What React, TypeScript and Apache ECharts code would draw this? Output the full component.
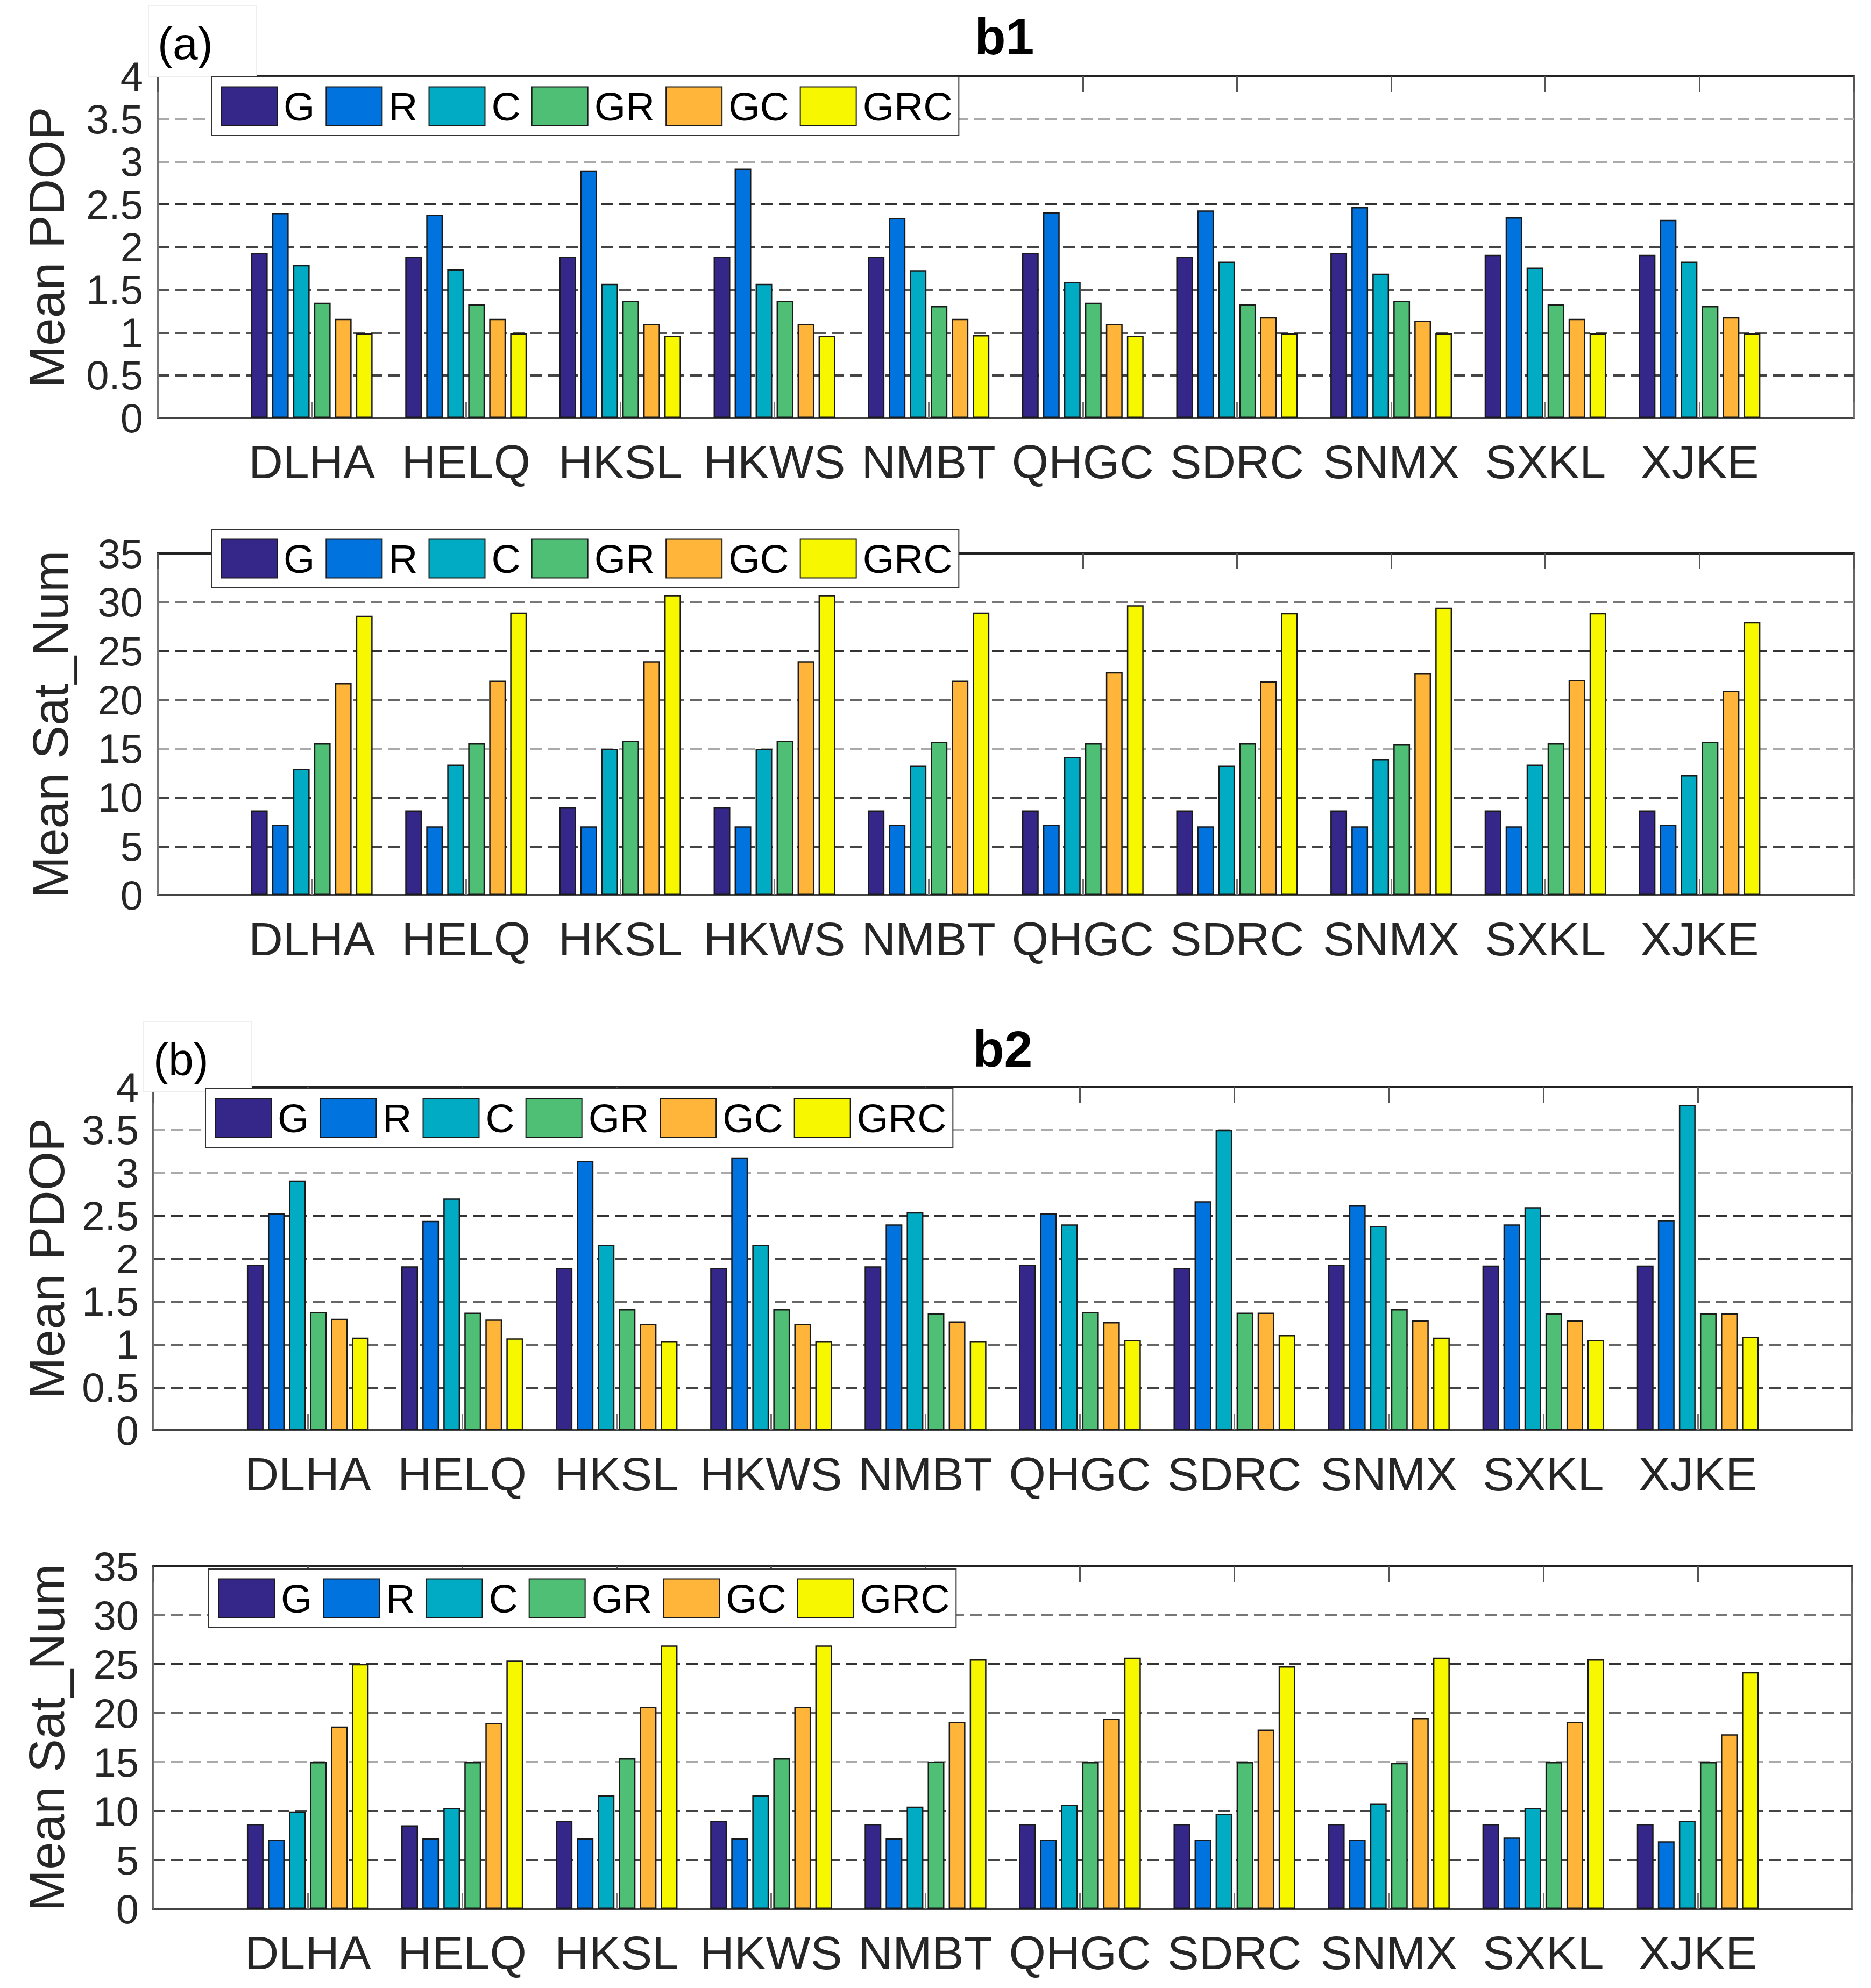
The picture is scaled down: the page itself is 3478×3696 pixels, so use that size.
import React, { useEffect, useRef } from "react";
import * as echarts from "echarts";

const stations = ["DLHA", "HELQ", "HKSL", "HKWS", "NMBT", "QHGC", "SDRC", "SNMX", "SXKL", "XJKE"];
const systems = ["G", "R", "C", "GR", "GC", "GRC"];
const sysColors = ["#35268a", "#0073de", "#00abc3", "#4fbf76", "#ffb43a", "#f7f700"];

const pdopTicks = [0, 0.5, 1, 1.5, 2, 2.5, 3, 3.5, 4];
const satTicks = [0, 5, 10, 15, 20, 25, 30, 35];

// Panel b1: Mean PDOP
const b1PdopG = [1.93, 1.89, 1.89, 1.89, 1.89, 1.93, 1.89, 1.93, 1.91, 1.91];
const b1PdopR = [2.40, 2.38, 2.90, 2.92, 2.34, 2.41, 2.43, 2.47, 2.35, 2.32];
const b1PdopC = [1.79, 1.74, 1.57, 1.57, 1.73, 1.59, 1.83, 1.69, 1.76, 1.83];
const b1PdopGR = [1.35, 1.33, 1.37, 1.37, 1.31, 1.35, 1.33, 1.37, 1.33, 1.31];
const b1PdopGC = [1.16, 1.16, 1.10, 1.10, 1.16, 1.10, 1.18, 1.14, 1.16, 1.18];
const b1PdopGRC = [0.99, 0.99, 0.96, 0.96, 0.97, 0.96, 0.99, 0.99, 0.99, 0.99];

// Panel b1: Mean Sat_Num
const b1SatG = [8.68, 8.68, 8.98, 8.98, 8.68, 8.68, 8.68, 8.68, 8.68, 8.68];
const b1SatR = [7.19, 7.04, 7.04, 7.04, 7.19, 7.19, 7.04, 7.04, 7.04, 7.19];
const b1SatC = [12.95, 13.37, 14.98, 14.98, 13.25, 14.17, 13.25, 13.94, 13.37, 12.29];
const b1SatGR = [15.55, 15.55, 15.79, 15.79, 15.70, 15.55, 15.55, 15.43, 15.55, 15.70];
const b1SatGC = [21.72, 21.96, 23.96, 23.96, 21.96, 22.83, 21.90, 22.71, 22.02, 20.92];
const b1SatGRC = [28.62, 28.95, 30.74, 30.74, 28.95, 29.69, 28.89, 29.45, 28.89, 27.96];

// Panel b2: Mean PDOP
const b2PdopG = [1.93, 1.91, 1.89, 1.89, 1.91, 1.93, 1.89, 1.93, 1.92, 1.92];
const b2PdopR = [2.53, 2.44, 3.14, 3.18, 2.40, 2.53, 2.67, 2.62, 2.40, 2.45];
const b2PdopC = [2.91, 2.70, 2.16, 2.16, 2.54, 2.40, 3.50, 2.38, 2.60, 3.79];
const b2PdopGR = [1.38, 1.37, 1.41, 1.41, 1.36, 1.38, 1.37, 1.41, 1.36, 1.36];
const b2PdopGC = [1.30, 1.29, 1.24, 1.24, 1.27, 1.26, 1.37, 1.28, 1.28, 1.36];
const b2PdopGRC = [1.08, 1.07, 1.04, 1.04, 1.04, 1.05, 1.11, 1.08, 1.05, 1.09];

// Panel b2: Mean Sat_Num
const b2SatG = [8.68, 8.54, 9.01, 9.01, 8.68, 8.68, 8.68, 8.68, 8.68, 8.68];
const b2SatR = [7.08, 7.20, 7.20, 7.20, 7.20, 7.08, 7.08, 7.08, 7.29, 6.91];
const b2SatC = [9.96, 10.31, 11.59, 11.59, 10.46, 10.64, 9.72, 10.79, 10.31, 8.98];
const b2SatGR = [15.0, 15.0, 15.38, 15.38, 15.06, 15.0, 15.0, 14.91, 15.0, 15.0];
const b2SatGC = [18.64, 19.0, 20.63, 20.63, 19.12, 19.44, 18.32, 19.5, 19.09, 17.84];
const b2SatGRC = [25.01, 25.37, 26.91, 26.91, 25.49, 25.67, 24.78, 25.67, 25.49, 24.19];

const FONT = "'Liberation Sans', Arial, Helvetica, sans-serif";
const TXT = "#262626";

const panels = [
  {
    grid: { left: 293, top: 142, width: 3153, height: 635 },
    legend: { left: 393, top: 143 },
    yName: "Mean PDOP", nameGap: 160, ticks: pdopTicks,
    gridColors: ["#444", "#444", "#555", "#555", "#444", "#333", "#aaa", "#aaa", "#333"],
    data: [b1PdopG, b1PdopR, b1PdopC, b1PdopGR, b1PdopGC, b1PdopGRC],
  },
  {
    grid: { left: 293, top: 1029, width: 3153, height: 635 },
    legend: { left: 393, top: 984 },
    yName: "Mean Sat_Num", nameGap: 153, ticks: satTicks,
    gridColors: ["#444", "#444", "#444", "#aaa", "#666", "#333", "#777", "#aaa"],
    data: [b1SatG, b1SatR, b1SatC, b1SatGR, b1SatGC, b1SatGRC],
  },
  {
    grid: { left: 285, top: 2021, width: 3158, height: 638 },
    legend: { left: 382, top: 2024 },
    yName: "Mean PDOP", nameGap: 152, ticks: pdopTicks,
    gridColors: ["#444", "#444", "#666", "#666", "#444", "#333", "#aaa", "#aaa", "#333"],
    data: [b2PdopG, b2PdopR, b2PdopC, b2PdopGR, b2PdopGC, b2PdopGRC],
  },
  {
    grid: { left: 285, top: 2912, width: 3158, height: 637 },
    legend: { left: 388, top: 2917 },
    yName: "Mean Sat_Num", nameGap: 152, ticks: satTicks,
    gridColors: ["#444", "#444", "#444", "#aaa", "#666", "#333", "#777", "#aaa"],
    data: [b2SatG, b2SatR, b2SatC, b2SatGR, b2SatGC, b2SatGRC],
  },
];

const axisCats = ["", ...stations, ""];

function buildOption() {
  const grid: any[] = [];
  const xAxis: any[] = [];
  const yAxis: any[] = [];
  const series: any[] = [];
  const legend: any[] = [];

  panels.forEach((p, i) => {
    grid.push({
      ...p.grid,
      show: true,
      backgroundColor: "#ffffff",
      borderColor: "#666",
      borderWidth: 4,
    });
    // bottom axis
    xAxis.push({
      type: "category",
      gridIndex: i,
      data: axisCats,
      boundaryGap: false,
      position: "bottom",
      axisLine: { show: true, lineStyle: { color: "#444", width: 4 } },
      axisTick: { show: true, inside: true, length: 30, interval: 0, lineStyle: { color: "#777", width: 3 } },
      axisLabel: { interval: 0, fontSize: 88, fontFamily: FONT, color: TXT, margin: 37 },
      splitLine: { show: false },
      z: 1,
    });
    // top axis (box ticks)
    xAxis.push({
      type: "category",
      gridIndex: i,
      data: axisCats,
      boundaryGap: false,
      position: "top",
      axisLine: { show: true, lineStyle: { color: "#222", width: 4 } },
      axisTick: { show: true, inside: true, length: 29, interval: 0, lineStyle: { color: "#555", width: 3 } },
      axisLabel: { show: false },
      splitLine: { show: false },
    });
    const tks = p.ticks;
    const interval = tks[1] - tks[0];
    yAxis.push({
      type: "value",
      gridIndex: i,
      min: tks[0],
      max: tks[tks.length - 1],
      interval,
      name: p.yName,
      nameLocation: "middle",
      nameGap: p.nameGap,
      nameTextStyle: { fontSize: 93, fontFamily: FONT, color: TXT },
      axisLine: { show: true, lineStyle: { color: "#777", width: 3 } },
      axisTick: { show: false },
      axisLabel: { fontSize: 76, lineHeight: 70, fontFamily: FONT, color: TXT, margin: 27 },
      splitLine: {
        show: true,
        lineStyle: { color: p.gridColors, width: 4, type: [22, 11] },
      },
    });
    p.data.forEach((vals, s) => {
      series.push({
        type: "bar",
        name: systems[s],
        xAxisIndex: i * 2,
        yAxisIndex: i,
        data: [null, ...vals, null],
        barWidth: "10.8%",
        barGap: "26%",
        itemStyle: { color: sysColors[s], borderColor: "#1a1a1a", borderWidth: 2.5 },
        emphasis: { disabled: true },
        z: 2,
      });
    });
    legend.push({
      left: p.legend.left,
      top: p.legend.top,
      orient: "horizontal",
      data: systems,
      icon: "rect",
      itemWidth: 104,
      itemHeight: 72,
      itemGap: 20,
      padding: [17, 12, 17, 17],
      backgroundColor: "#ffffff",
      borderColor: "#333",
      borderWidth: 2,
      selectedMode: false,
      textStyle: { fontSize: 75, fontFamily: FONT, color: "#000", padding: [0, 0, 0, 7] },
      z: 10,
    });
  });

  const graphic: any[] = [
    { type: "rect", shape: { x: 276, y: 10, width: 200, height: 132 }, style: { fill: "#fff", stroke: "#eeeeee", lineWidth: 2 }, z: 5 },
    { type: "text", x: 293, y: 81, style: { text: "(a)", fontSize: 84, fontFamily: FONT, fill: "#000", textAlign: "left", textVerticalAlign: "middle" }, z: 6 },
    { type: "text", x: 1867, y: 68, style: { text: "b1", fontSize: 95, fontWeight: "bold", fontFamily: FONT, fill: "#000", textAlign: "center", textVerticalAlign: "middle" }, z: 6 },
    { type: "rect", shape: { x: 266, y: 1899, width: 202, height: 130 }, style: { fill: "#fff", stroke: "#eeeeee", lineWidth: 2 }, z: 5 },
    { type: "text", x: 285, y: 1970, style: { text: "(b)", fontSize: 84, fontFamily: FONT, fill: "#000", textAlign: "left", textVerticalAlign: "middle" }, z: 6 },
    { type: "text", x: 1864, y: 1950, style: { text: "b2", fontSize: 95, fontWeight: "bold", fontFamily: FONT, fill: "#000", textAlign: "center", textVerticalAlign: "middle" }, z: 6 },
  ];

  return {
    animation: false,
    backgroundColor: "#ffffff",
    grid,
    xAxis,
    yAxis,
    series,
    legend,
    graphic,
  };
}

export default function App() {
  const ref = useRef<HTMLDivElement>(null);
  useEffect(() => {
    if (!ref.current) return;
    const chart = echarts.init(ref.current, null, { renderer: "svg" });
    chart.setOption(buildOption());
    return () => chart.dispose();
  }, []);
  return (
    <div
      ref={ref}
      style={{ position: "absolute", left: 0, top: 0, width: 3478, height: 3696, background: "#fff" }}
    />
  );
}
